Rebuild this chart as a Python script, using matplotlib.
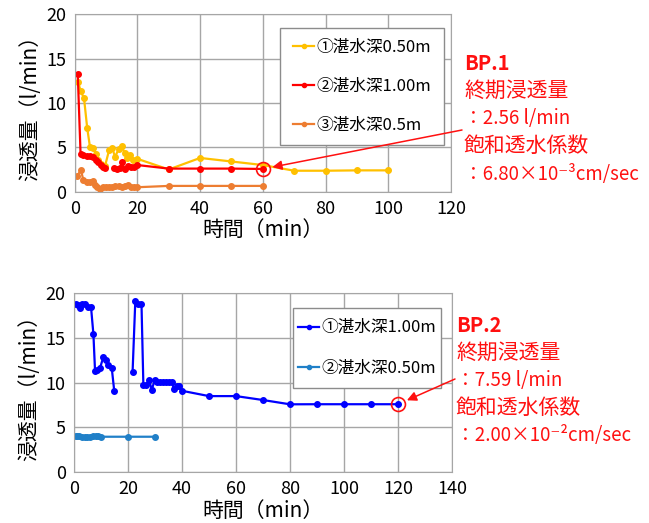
import numpy as np
import matplotlib
matplotlib.use("Agg")
import matplotlib.pyplot as plt
from matplotlib.patches import Rectangle

plt.rcParams['font.family'] = ['Noto Sans CJK JP', 'DejaVu Sans']

# ---------------------------------------------------------------------------
#                                 DATA
# ---------------------------------------------------------------------------
# BP.1
bp1_t_y = [1, 2, 3, 4, 4.9, 6, 6.7, 7.5, 8.5, 9.7, 11, 12, 12.9, 14, 15, 15.9,
           16.8, 17.6, 18.7, 20, 30, 40, 50, 60, 70, 80, 90, 100]
bp1_q_y = [12.4, 11.3, 10.5, 7.2, 5.0, 4.9, 4.3, 3.6, 3.1, 2.9, 4.7, 4.9, 3.9,
           4.8, 5.1, 4.4, 3.75, 4.1, 3.6, 3.7, 2.5, 3.8, 3.4, 3.0, 2.36, 2.36,
           2.4, 2.4]
bp1_t_r = [1, 1.9, 2.8, 3.9, 4.9, 6, 6.8, 7.5, 8.3, 9.1, 9.7, np.nan, 12.6,
           13.6, 14.5, 15.1, 16, 17, 18, 19, 20, 30, 40, 50, 60]
bp1_q_r = [13.2, 4.2, 4.1, 4.0, 4.0, 3.9, 3.6, 3.3, 3.0, 2.8, 2.7, np.nan, 2.7,
           2.6, 2.7, 3.3, 2.5, 2.9, 2.8, 2.8, 3.0, 2.6, 2.6, 2.6, 2.56]
bp1_t_o = [0.8, 2, 2.8, 3.9, 4.9, 6, 6.5, 7.2, 8, 9, 10, 11, 12, 13, 14, 15,
           16, 17, 18, 19, 20, 30, 40, 50, 60]
bp1_q_o = [1.8, 2.4, 1.3, 1.1, 1.1, 1.2, 0.75, 0.5, 0.35, 0.5, 0.55, 0.55, 0.5,
           0.6, 0.6, 0.55, 0.6, 0.7, 0.55, 0.5, 0.5, 0.65, 0.65, 0.65, 0.65]

# BP.2
bp2_t_b = [0.6, 1.4, 2.2, 3.1, 4.1, 5.3, 6.3, 7.2, 7.8, 8.6, 9.6, 10.9, 11.9,
           12.7, 14, 14.9, np.nan, 21.7, 22.7, 23.8, 25, 25.7, 26.7, 27.8, 28.8,
           29.9, 30.9, 31.9, 33.1, 34.1, 35.2, 36.2, 37, 38, 39, 39.9, 50, 60,
           70, 80, 90, 100, 110, 120]
bp2_q_b = [18.8, 18.7, 18.4, 18.8, 18.8, 18.5, 18.5, 15.4, 11.3, 11.4, 11.6,
           12.9, 12.5, 12.0, 11.6, 9.1, np.nan, 11.2, 19.1, 18.8, 18.8, 9.7,
           9.7, 10.3, 9.2, 10.3, 10.1, 10.1, 10.1, 10.1, 10.1, 10.1, 9.3, 9.6,
           9.6, 9.1, 8.5, 8.5, 8.06, 7.58, 7.59, 7.59, 7.59, 7.59]
bp2_t_c = [0.6, 1, 2, 3, 4, 5, 6, 7, 8, 9, 10, 20, 30]
bp2_q_c = [4.07, 4.05, 4.0, 3.95, 3.95, 3.95, 3.95, 4.0, 4.05, 4.05, 3.95,
           3.95, 3.95]

bp1_labels = ["①湛水深0.50m", "②湛水深1.00m", "③湛水深0.5m"]
bp2_labels = ["①湛水深1.00m", "②湛水深0.50m"]
bp1_end = (60, 2.56)
bp2_end = (120, 7.59)
bp1_text = ["終期浸透量", "：2.56 l/min", "飽和透水係数", "：6.80×10⁻³cm/sec"]
bp2_text = ["終期浸透量", "：7.59 l/min", "飽和透水係数", "：2.00×10⁻²cm/sec"]

# ---------------------------------------------------------------------------
#                                 PLOT
# ---------------------------------------------------------------------------
RED = "#ff1010"
W, H = 649, 523
fig = plt.figure(figsize=(6.49, 5.23), dpi=100)
ax1 = fig.add_axes([0.115, 0.6335, 0.58, 0.3395])
ax2 = fig.add_axes([0.114, 0.0975, 0.5825, 0.3415])


def style_axes(ax, xmax):
    ax.set_xlim(0, xmax)
    ax.set_ylim(0, 20)
    ax.set_xticks(np.arange(0, xmax + 1, 20))
    ax.set_yticks([0, 5, 10, 15, 20])
    ax.grid(True, color="#a6a6a6", lw=1.0)
    ax.set_axisbelow(True)
    for s in ax.spines.values():
        s.set_color("#a6a6a6")
    ax.tick_params(length=0, labelsize=13, pad=6)
    ax.set_xlabel("時間（min）", fontsize=15, labelpad=1)
    ax.set_ylabel("浸透量（l/min）", fontsize=15, labelpad=4)


def add_legend(ax, box, spacing):
    # box = (x0, y0, x1, y1) in axes fraction, frame drawn by hand
    x0, y0, x1, y1 = box
    ax.add_patch(Rectangle((x0, y0), x1 - x0, y1 - y0, transform=ax.transAxes,
                           fc="white", ec="#8c8c8c", lw=1.0, zorder=4))
    leg = ax.legend(loc="center", bbox_to_anchor=((x0 + x1) / 2, (y0 + y1) / 2),
                    borderaxespad=0, frameon=False, fontsize=12,
                    labelspacing=spacing, handlelength=1.3, handletextpad=0.1,
                    borderpad=0, markerscale=0.75)
    leg.set_zorder(5)
    return leg


mk = dict(marker="o", markersize=4, lw=1.6)
ax1.plot(bp1_t_y, bp1_q_y, color="#ffc000", label=bp1_labels[0], **mk)
ax1.plot(bp1_t_r, bp1_q_r, color="#ff0000", label=bp1_labels[1], **mk)
ax1.plot(bp1_t_o, bp1_q_o, color="#ed7d31", label=bp1_labels[2], **mk)
style_axes(ax1, 120)
add_legend(ax1, (0.546, 0.263, 0.98, 0.92), 1.32)

ax2.plot(bp2_t_b, bp2_q_b, color="#0000ff", label=bp2_labels[0], **mk)
ax2.plot(bp2_t_c, bp2_q_c, color="#2080c8", label=bp2_labels[1], **mk)
style_axes(ax2, 140)
add_legend(ax2, (0.579, 0.468, 0.970, 0.919), 1.41)

# end point circles and annotations
for ax, pt, title, lines, tx, ty, step, ax0, ay in [
        (ax1, bp1_end, "BP.1", bp1_text, 464, 63, 27.8, 462, 130),
        (ax2, bp2_end, "BP.2", bp2_text, 456, 326, 27.3, 455, 379)]:
    ax.plot(*pt, marker="o", markersize=10, mfc="none", mec=RED, mew=1.2,
            clip_on=False)
    an = ax.annotate("", xy=pt, xycoords="data",
                     xytext=(ax0, H - ay), textcoords="figure pixels",
                     arrowprops=dict(arrowstyle="-|>", color=RED, lw=1.1,
                                     shrinkA=0, shrinkB=7, mutation_scale=14))
    an.set_zorder(10)
    fig.text(tx / W, 1 - ty / H, title, color=RED, fontsize=14.5,
             fontweight="bold", va="center", ha="left")
    for i, s in enumerate(lines):
        size = 15 if i % 2 == 0 else 13.5
        fig.text(tx / W, 1 - (ty + step * (i + 1)) / H, s, color=RED,
                 fontsize=size, va="center", ha="left")

fig.savefig("out.png", dpi=100)
